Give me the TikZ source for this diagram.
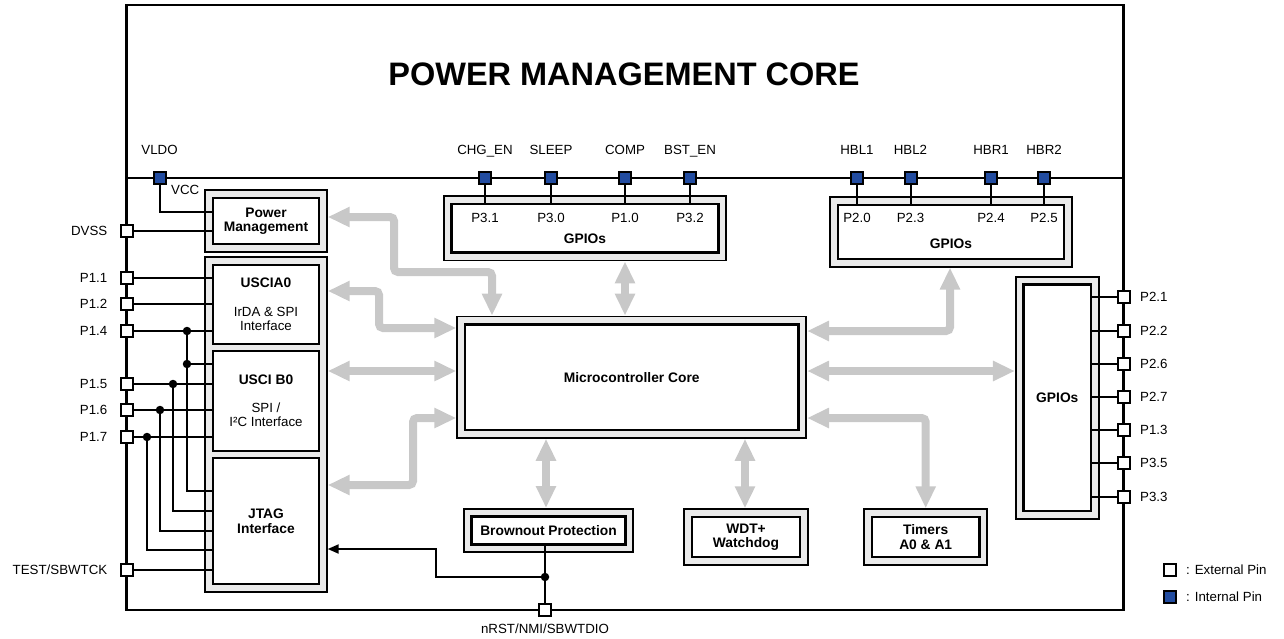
\documentclass[tikz,border=0pt]{standalone}
\usepackage{fontspec}
\setmainfont{Liberation Sans}
\usetikzlibrary{positioning,fit,backgrounds,arrows.meta}

\definecolor{pinblue}{RGB}{34,76,160}
\definecolor{busgray}{RGB}{200,200,200}
\definecolor{bandgray}{RGB}{234,234,234}
\newcommand\lblfont{\fontsize{13.3}{14}\selectfont}
\newcommand\boldfont{\fontsize{13.8}{14.5}\selectfont\bfseries}

\tikzset{
  lbl/.style={font=\lblfont, inner sep=1pt, text height=9.5pt, text depth=0pt},
  module/.style={draw, line width=2.6pt, fill=white, align=center, inner sep=0pt, font=\lblfont},
  bold/.style={font=\boldfont},
  frame/.style={draw, line width=1.8pt, fill=bandgray, inner sep=6.5pt},
  extpin/.style={draw, line width=2pt, fill=white, minimum size=12pt, inner sep=0pt},
  intpin/.style={extpin, fill=pinblue},
  wire/.style={line width=2pt},
  dot/.style={circle, fill, minimum size=8.5pt, inner sep=0pt},
  bus/.style={line width=8pt, busgray, rounded corners=4pt,
    {Triangle[length=22pt,width=19pt]}-{Triangle[length=22pt,width=19pt]}},
}

\begin{document}
\begin{tikzpicture}[x=1pt, y=-1pt]
\useasboundingbox (0,0) rectangle (1284,638);

% chip outline
\draw[line width=2.6pt] (126.5,5) rectangle (1123.5,610);
\draw[line width=2.6pt] (126.5,178) -- (1123.5,178);
\node[font=\fontsize{32.5}{34}\selectfont\bfseries] (title) at (624,74) {POWER MANAGEMENT CORE};

% blocks
\node[module, bold, minimum width=106pt, minimum height=46pt] (pm) at (266,221) {Power\\Management};
\node[module, minimum width=106pt, minimum height=79pt] (usa) at (266,304.5)
  {{\boldfont USCIA0}\\[15pt]IrDA \& SPI\\Interface};
\node[module, minimum width=106pt, minimum height=100pt] (usb) at (266,401)
  {{\boldfont USCI B0}\\[14pt]SPI /\\I²C Interface};
\node[module, bold, minimum width=106pt, minimum height=126pt] (jtag) at (266,521) {JTAG\\Interface};
\node[module, minimum width=266.6pt, minimum height=48.7pt] (gpa) at (585,228.3) {};
\node[module, minimum width=226pt, minimum height=53.7pt] (gpb) at (951,232) {};
\node[module, bold, minimum width=67.3pt, minimum height=226.3pt] (gpc) at (1057.3,397.8) {GPIOs};
\node[module, bold, minimum width=333.3pt, minimum height=105.7pt] (core) at (631.7,377.2) {Microcontroller Core};
\node[module, bold, minimum width=154pt, minimum height=27.6pt] (bop) at (548.5,530.5) {Brownout Protection};
\node[module, bold, minimum width=108pt, minimum height=40pt] (wdt) at (746,537) {WDT+\\Watchdog};
\node[module, bold, minimum width=107.5pt, minimum height=40pt] (tim) at (925.7,537) {Timers\\A0 \& A1};
\node[bold] (gpa-t) at (585,238.3) {GPIOs};
\node[bold] (gpb-t) at (951,243.7) {GPIOs};

\begin{scope}[on background layer]
  \node[frame, fit=(pm)] (pm-f) {};
  \node[frame, fit=(usa)(usb)(jtag)] (io-f) {};
  \node[frame, fit=(gpa)] (gpa-f) {};
  \node[frame, fit=(gpb)] (gpb-f) {};
  \node[frame, fit=(gpc)] (gpc-f) {};
  \node[frame, fit=(core)] (core-f) {};
  \node[frame, fit=(bop)] (bop-f) {};
  \node[frame, fit=(wdt)] (wdt-f) {};
  \node[frame, fit=(tim)] (tim-f) {};
\end{scope}

% internal buses
\draw[bus] ([yshift=4pt]pm-f.east) -| (394,272) -| (core-f.north -| 492,0);
\draw[bus] (io-f.east |- 0,291) -| (379,328) -- (core-f.west |- 0,328);
\draw[bus] (io-f.east |- 0,371) -- (core-f.west |- 0,371);
\draw[bus] (io-f.east |- 0,485) -| (413,418) -- (core-f.west |- 0,418);
\draw[bus] (gpa-f.south -| 625,0) -- (core-f.north -| 625,0);
\draw[bus] (core-f.south -| 546,0) -- (bop-f.north -| 546,0);
\draw[bus] (core-f.south -| 745,0) -- (wdt-f.north -| 745,0);
\draw[bus] (core-f.east |- 0,331) -| (gpb-f.south -| 950,0);
\draw[bus] (core-f.east |- 0,371) -- (gpc-f.west |- 0,371);
\draw[bus] (core-f.east |- 0,418) -| (tim-f.north);

% left pins
\foreach \pin/\ypos/\name/\mod in {dvss/231/DVSS/pm, p11/278/P1.1/usa, p12/304/P1.2/usa,
    p14/331/P1.4/usa, p15/384/P1.5/usb, p16/410/P1.6/usb, p17/437/P1.7/usb}{
  \node[extpin] (\pin) at (126.5,\ypos) {};
  \node[lbl, left=11pt of \pin] (\pin-l) {\name};
  \draw[wire] (\pin) -- (\pin -| \mod.west);
}
\node[extpin] (test) at (126.5,570) {};
\node[lbl, left=11pt of test] (test-l) {TEST/SBWTCK};
\draw[wire] (test) -- (test -| jtag.west);

% JTAG taps
\node[dot] (d14) at (187,331) {};
\node[dot] (d14b) at (187,364) {};
\node[dot] (d15) at (173,384) {};
\node[dot] (d16) at (160,410) {};
\node[dot] (d17) at (147,437) {};
\draw[wire] (d14b) -- (d14b -| usb.west);
\draw[wire] (d14) |- ([yshift=30pt]jtag.west);
\draw[wire] (d15) |- ([yshift=10pt]jtag.west);
\draw[wire] (d16) |- ([yshift=-10pt]jtag.west);
\draw[wire] (d17) |- ([yshift=-29pt]jtag.west);

% right pins
\foreach \pin/\ypos/\name in {p21/297/P2.1, p22/331/P2.2, p26/364/P2.6, p27/397/P2.7,
    p13/430/P1.3, p35/463/P3.5, p33/497/P3.3}{
  \node[extpin] (\pin) at (1123.5,\ypos) {};
  \node[lbl, right=8.5pt of \pin] (\pin-l) {\name};
  \draw[wire] (\pin) -- (\pin -| gpc.east);
}

% internal pins
\node[intpin] (vldo) at (159.5,178) {};
\node[lbl] (vldo-l) at (159.5,150) {VLDO};
\node[lbl, anchor=west] (vcc) at (170,190) {VCC};
\draw[wire] (vldo) |- ([yshift=9pt]pm.west);
\foreach \pin/\xpos/\name/\mod/\port in {chg/485/CHG\_EN/gpa/P3.1, slp/551/SLEEP/gpa/P3.0,
    cmp/625/COMP/gpa/P1.0, bst/690/BST\_EN/gpa/P3.2, hbl1/857/HBL1/gpb/P2.0,
    hbl2/910.5/HBL2/gpb/P2.3, hbr1/991/HBR1/gpb/P2.4, hbr2/1044/HBR2/gpb/P2.5}{
  \node[intpin] (\pin) at (\xpos,178) {};
  \node[lbl] (\pin-l) at (\xpos,150) {\name};
  \node[lbl] (\pin-p) at (\xpos,218) {\port};
  \draw[wire] (\pin) -- (\pin |- \mod.north);
}

% reset pin
\node[extpin] (nrst) at (545,610) {};
\node[lbl] (nrst-l) at (545,629) {nRST/NMI/SBWTDIO};
\draw[wire] (nrst) -- (nrst |- bop.south);
\node[dot] (drst) at (545,577) {};
\coordinate (jbend) at (436,549);
\draw[wire, -{Triangle[length=11pt,width=9pt]}] (drst) -| (jbend) -- (jbend -| io-f.east);

% legend
\node[extpin] (key-ext) at (1170,570) {};
\node[lbl, right=8pt of key-ext] (key-ext-l) {: External Pin};
\node[intpin] (key-int) at (1170,597) {};
\node[lbl, right=8pt of key-int] (key-int-l) {: Internal Pin};
\end{tikzpicture}
\end{document}
